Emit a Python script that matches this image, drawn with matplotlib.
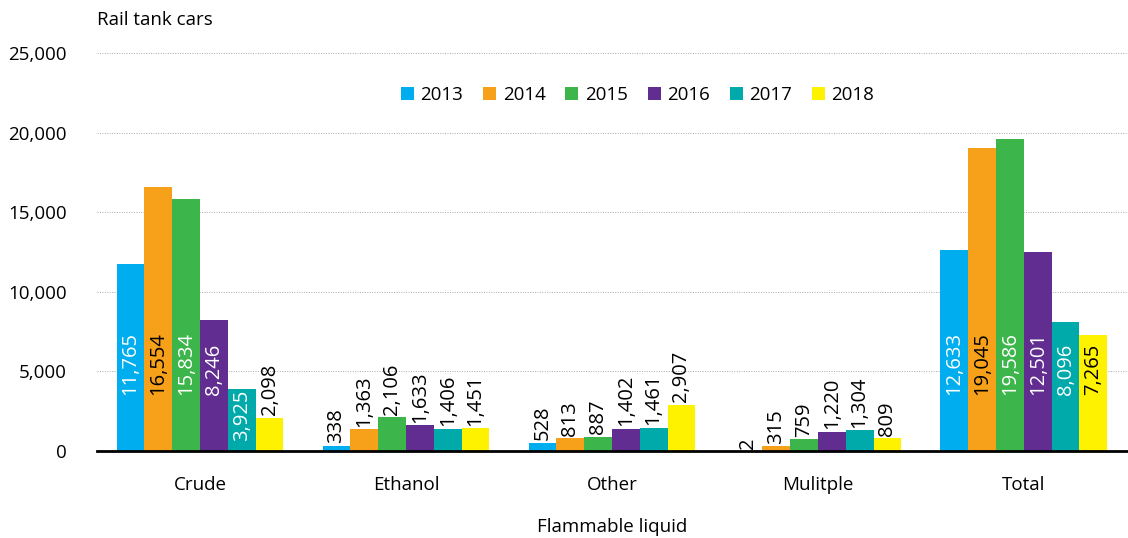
import numpy as np
import matplotlib
matplotlib.use("Agg")
import matplotlib.pyplot as plt
from matplotlib.ticker import FuncFormatter

categories = ["Crude", "Ethanol", "Other", "Mulitple", "Total"]
years = ["2013", "2014", "2015", "2016", "2017", "2018"]
v2013 = [11765, 338, 528, 2, 12633]
v2014 = [16554, 1363, 813, 315, 19045]
v2015 = [15834, 2106, 887, 759, 19586]
v2016 = [8246, 1633, 1402, 1220, 12501]
v2017 = [3925, 1406, 1461, 1304, 8096]
v2018 = [2098, 1451, 2907, 809, 7265]

series = [v2013, v2014, v2015, v2016, v2017, v2018]
colors = ["#00AEEF", "#F7A11A", "#3CB54A", "#612D91", "#00A9AA", "#FFF200"]
inside_text = ["white", "black", "white", "white", "white", "black"]

plt.rcParams['font.family'] = ['Open Sans', 'DejaVu Sans']
fs = 13.5

fig = plt.figure(figsize=(11.28, 5.38), dpi=100)
ax = fig.add_axes([0.086, 0.1617, 0.913, 0.7398])

x = np.arange(len(categories))
group_w = 0.81
bw = group_w / len(years)

for i, (vals, col) in enumerate(zip(series, colors)):
    xs = x - group_w / 2 + bw * (i + 0.5)
    ax.bar(xs, vals, width=bw, color=col, label=years[i], zorder=2)
    for xx, v in zip(xs, vals):
        txt = f"{v:,}"
        if v > 3500:
            y = min(3500, v - 3300)
            ax.text(xx, y, txt, rotation=90, ha="center", va="bottom",
                    color=inside_text[i], fontsize=14.5, zorder=3)
        else:
            ax.text(xx, v + 150, txt, rotation=90, ha="center", va="bottom",
                    color="black", fontsize=14.5, zorder=3)

ax.set_xlim(-0.5, len(categories) - 0.5)
ax.set_ylim(0, 25000)
ax.set_yticks(range(0, 25001, 5000))
ax.yaxis.set_major_formatter(FuncFormatter(lambda v, p: f"{int(v):,}"))
ax.set_xticks(x)
ax.set_xticklabels(categories)
ax.tick_params(axis="both", length=0, labelsize=fs)
ax.tick_params(axis="y", pad=22)
ax.tick_params(axis="x", pad=18)

for s in ["top", "right", "left"]:
    ax.spines[s].set_visible(False)
ax.spines["bottom"].set_linewidth(2)
ax.spines["bottom"].set_zorder(4)

ax.yaxis.grid(True, linestyle=(0, (1, 1.5)), color="#aaaaaa", linewidth=0.7, zorder=0)
ax.set_axisbelow(True)

ax.set_xlabel("Flammable liquid", fontsize=fs, labelpad=17)
fig.text(0.086, 0.962, "Rail tank cars", fontsize=fs, ha="left", va="center")

leg = ax.legend(loc="center", bbox_to_anchor=(0.525, 0.894), ncol=6, frameon=False,
                fontsize=fs, handlelength=0.7, handleheight=0.7,
                handletextpad=0.35, columnspacing=1.05)

fig.savefig("out.png", dpi=100)
